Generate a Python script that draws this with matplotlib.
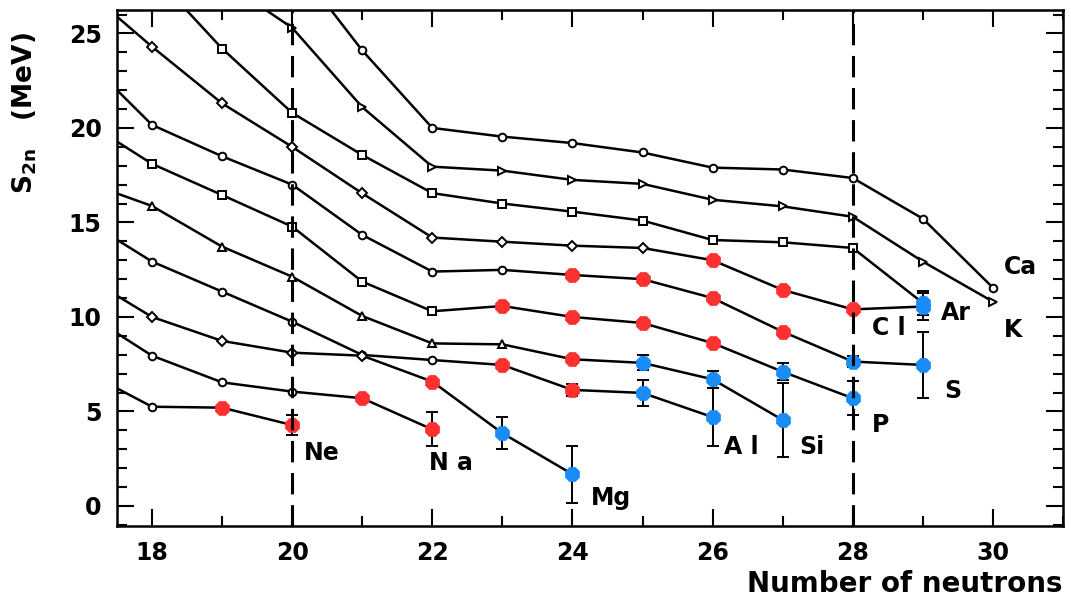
import matplotlib
matplotlib.use('Agg')
import matplotlib.pyplot as plt
from matplotlib.ticker import MultipleLocator

plt.rcParams['font.family'] = ['DejaVu Sans']
plt.rcParams['mathtext.fontset'] = 'dejavusans'

# two-neutron separation energies
# kind: o = open (known), r = red, b = blue
ca_n = [20, 21, 22, 23, 24, 25, 26, 27, 28, 29, 30]
ca_s2n = [28.9, 24.1, 20.0, 19.54, 19.2, 18.7, 17.9, 17.8, 17.35, 15.2, 11.55]
ca_kind = 'ooooooooooo'
ca_err = [0] * 11

k_n = [19, 20, 21, 22, 23, 24, 25, 26, 27, 28, 29, 30]
k_s2n = [27.8, 25.3, 21.1, 17.95, 17.74, 17.25, 17.04, 16.2, 15.85, 15.3, 12.93, 10.81]
k_kind = 'oooooooooooo'
k_err = [0] * 12

ar_n = [18, 19, 20, 21, 22, 23, 24, 25, 26, 27, 28, 29]
ar_s2n = [28.2, 24.2, 20.8, 18.57, 16.55, 16.0, 15.57, 15.1, 14.07, 13.95, 13.65, 10.74]
ar_kind = 'ooooooooooob'
ar_err = [0] * 11 + [0.65]

cl_n = [17, 18, 19, 20, 21, 22, 23, 24, 25, 26, 27, 28, 29]
cl_s2n = [27.48, 24.3, 21.3, 19.0, 16.54, 14.2, 13.98, 13.77, 13.65, 13.0, 11.43, 10.4, 10.55]
cl_kind = 'ooooooooorrrb'
cl_err = [0] * 12 + [0.7]

s_n = [17, 18, 19, 20, 21, 22, 23, 24, 25, 26, 27, 28, 29]
s_s2n = [23.85, 20.16, 18.5, 17.0, 14.34, 12.4, 12.49, 12.22, 12.0, 11.0, 9.22, 7.64, 7.46]
s_kind = 'ooooooorrrrbb'
s_err = [0] * 11 + [0.3, 1.75]

p_n = [17, 18, 19, 20, 21, 22, 23, 24, 25, 26, 27, 28]
p_s2n = [20.46, 18.1, 16.45, 14.78, 11.87, 10.3, 10.58, 10.0, 9.68, 8.62, 7.1, 5.7]
p_kind = 'oooooorrrrbb'
p_err = [0] * 10 + [0.45, 0.9]

si_n = [17, 18, 19, 20, 21, 22, 23, 24, 25, 26, 27]
si_s2n = [17.2, 15.87, 13.72, 12.13, 10.05, 8.6, 8.55, 7.76, 7.57, 6.7, 4.55]
si_kind = 'ooooooorbbb'
si_err = [0] * 8 + [0.4, 0.45, 1.95]

al_n = [17, 18, 19, 20, 21, 22, 23, 24, 25, 26]
al_s2n = [15.24, 12.93, 11.34, 9.75, 7.99, 7.72, 7.46, 6.14, 5.98, 4.7]
al_kind = 'oooooorrbb'
al_err = [0] * 7 + [0.3, 0.7, 1.55]

mg_n = [17, 18, 19, 20, 21, 22, 23, 24]
mg_s2n = [12.25, 10.0, 8.73, 8.11, 7.95, 6.58, 3.85, 1.68]
mg_kind = 'ooooorbb'
mg_err = [0] * 6 + [0.85, 1.5]

na_n = [17, 18, 19, 20, 21, 22]
na_s2n = [10.33, 7.95, 6.54, 6.05, 5.7, 4.05]
na_kind = 'oooorr'
na_err = [0] * 5 + [0.9]

ne_n = [17, 18, 19, 20]
ne_s2n = [7.2, 5.25, 5.2, 4.28]
ne_kind = 'oorr'
ne_err = [0, 0, 0, 0.55]

# drawn in this order (Ar last so its point sits on top of Cl at N=29)
chains = [
    (ca_n, ca_s2n, ca_kind, ca_err, 'o'),
    (k_n, k_s2n, k_kind, k_err, '>'),
    (cl_n, cl_s2n, cl_kind, cl_err, 'D'),
    (s_n, s_s2n, s_kind, s_err, 'o'),
    (p_n, p_s2n, p_kind, p_err, 's'),
    (si_n, si_s2n, si_kind, si_err, '^'),
    (al_n, al_s2n, al_kind, al_err, 'o'),
    (mg_n, mg_s2n, mg_kind, mg_err, 'D'),
    (na_n, na_s2n, na_kind, na_err, 'o'),
    (ne_n, ne_s2n, ne_kind, ne_err, 'o'),
    (ar_n, ar_s2n, ar_kind, ar_err, 's'),
]

# element labels: text, N, S2n
label_txt = ['Ne', 'N a', 'Mg', 'A l', 'Si', 'P', 'S', 'C l', 'Ar', 'K', 'Ca']
label_n = [20.17, 21.95, 24.26, 26.16, 27.23, 28.27, 29.3, 28.27, 29.26, 30.15, 30.15]
label_y = [2.8, 2.27, 0.42, 3.1, 3.1, 4.3, 6.1, 9.4, 10.2, 9.3, 12.65]

magic = [20, 28]

red = '#ff3030'
blue = '#1a8cf5'

fig = plt.figure(figsize=(10.71, 6.05), dpi=100)
ax = fig.add_axes([0.1092, 0.1306, 0.9925 - 0.1092, 0.9835 - 0.1306])

for n, s2n, kind, err, mk in chains:
    ax.plot(n, s2n, color='black', lw=1.8, zorder=2)
    for i in range(len(n)):
        if err[i] > 0:
            ax.errorbar(n[i], s2n[i], yerr=err[i], fmt='none', ecolor='black',
                        elinewidth=1.4, capsize=4, capthick=1.4, zorder=3)
        if kind[i] == 'o':
            ax.plot(n[i], s2n[i], marker=mk, ms=5.5, mfc='white', mec='black',
                    mew=1.4, zorder=4)
        else:
            col = red if kind[i] == 'r' else blue
            ax.plot(n[i], s2n[i], marker='8', ms=10.5, mfc=col, mec=col,
                    mew=0.5, zorder=5)

for m in magic:
    ax.axvline(m, color='black', lw=2.2, dashes=(7, 3.5), zorder=6)

for t, x, y in zip(label_txt, label_n, label_y):
    ax.text(x, y, t, fontsize=17, fontweight='bold', ha='left', va='center')

ax.set_xlim(17.5, 31.0)
ax.set_ylim(-1.06, 26.24)
ax.xaxis.set_major_locator(MultipleLocator(2))
ax.xaxis.set_minor_locator(MultipleLocator(1))
ax.yaxis.set_major_locator(MultipleLocator(5))
ax.yaxis.set_minor_locator(MultipleLocator(1))
ax.tick_params(which='both', direction='in', top=True, right=True, width=1.5)
ax.tick_params(which='major', length=12, labelsize=17, pad=11)
ax.tick_params(which='minor', length=7)
for lab in ax.get_xticklabels() + ax.get_yticklabels():
    lab.set_fontweight('bold')
for sp in ax.spines.values():
    sp.set_linewidth(1.8)

ax.set_ylabel(r'$\mathregular{S_{2n}}$   (MeV)', fontsize=19, fontweight='bold')
ax.yaxis.set_label_coords(-0.082, 0.80)
ax.set_xlabel('Number of neutrons', fontsize=20, fontweight='bold', ha='right')
ax.xaxis.set_label_coords(1.0, -0.085)

fig.savefig('out.png', dpi=100)
